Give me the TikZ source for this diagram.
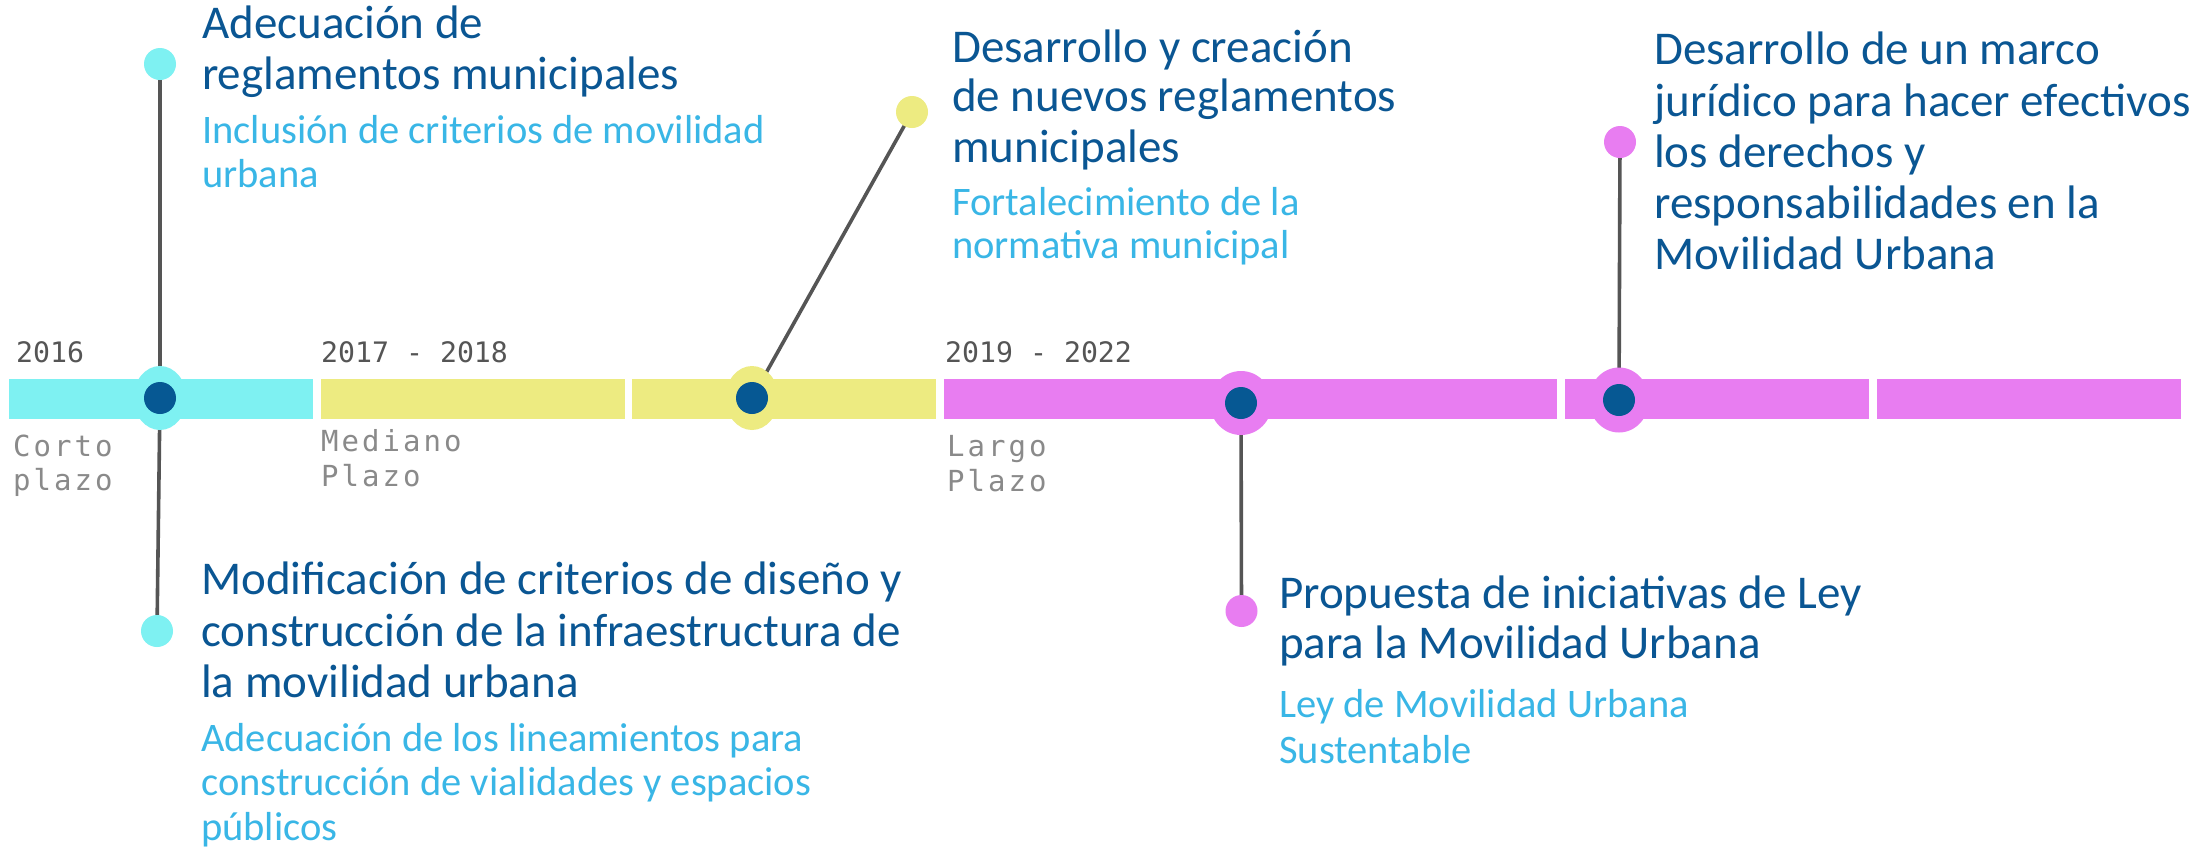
\documentclass[tikz,border=0pt]{standalone}
\usepackage{fontspec}
\setmainfont{Carlito}
\newfontfamily\yearfont{DejaVu Sans Mono}
\newfontfamily\termfont{DejaVu Sans Mono}[LetterSpace=10.5]
\usetikzlibrary{shapes.geometric}
\definecolor{cyanbar}{HTML}{7EF1F2}
\definecolor{yellowbar}{HTML}{EDEB81}
\definecolor{magentabar}{HTML}{E87DF1}
\definecolor{dotblue}{HTML}{065893}
\definecolor{titleblue}{HTML}{0A5693}
\definecolor{subblue}{HTML}{39B6E6}
\definecolor{connector}{HTML}{555555}
\definecolor{yeargray}{HTML}{555555}
\definecolor{termgray}{HTML}{8A8A8A}
\pgfdeclarelayer{bg}
\pgfsetlayers{bg,main}
\tikzset{
  ttl/.style={anchor=base west, inner sep=0pt, text=titleblue, font=\fontsize{47}{47}\selectfont},
  sub/.style={anchor=base west, inner sep=0pt, text=subblue, font=\fontsize{40.5}{40.5}\selectfont},
  yr/.style={anchor=base west, inner sep=0pt, text=yeargray, font=\yearfont\fontsize{28.2}{28.2}\selectfont},
  trm/.style={anchor=base west, inner sep=0pt, text=termgray, font=\termfont\fontsize{29}{29}\selectfont},
  ring/.style={ellipse, inner sep=0pt, draw=none},
  core/.style={circle, inner sep=0pt, minimum size=32pt, fill=dotblue, draw=none},
  enddot/.style={circle, inner sep=0pt, minimum size=32pt, draw=none},
  conn/.style={draw=connector, line width=3.6pt},
}
\begin{document}
\begin{tikzpicture}[x=1pt,y=-1pt]
\useasboundingbox (0,0) rectangle (2204,847);

% milestone markers
\node[ring, fill=cyanbar, minimum width=53pt, minimum height=64pt] (r1) at (160,398) {};
\node[core] (k1) at (160,398) {};
\node[ring, fill=yellowbar, minimum width=53pt, minimum height=64pt] (r2) at (752,398) {};
\node[core] (k2) at (752,398) {};
\node[ring, fill=magentabar, minimum width=62pt, minimum height=64pt] (r3) at (1241,403) {};
\node[core] (k3) at (1241,403) {};
\node[ring, fill=magentabar, minimum width=60pt, minimum height=65pt] (r4) at (1619,400) {};
\node[core] (k4) at (1619,400) {};

% end dots
\node[enddot, fill=cyanbar] (e1t) at (160,64) {};
\node[enddot, fill=cyanbar] (e1b) at (157,631) {};
\node[enddot, fill=yellowbar] (e2) at (912,112) {};
\node[enddot, fill=magentabar] (e3) at (1241.5,611) {};
\node[enddot, fill=magentabar] (e4) at (1620,142) {};

\begin{pgfonlayer}{bg}
  \fill[white] (0,0) rectangle (2204,847);
  \fill[cyanbar] (9,378.5) rectangle (312.5,419);
  \fill[yellowbar] (321,378.5) rectangle (624.5,419);
  \fill[yellowbar] (632,378.5) rectangle (936,419);
  \fill[magentabar] (943.5,378.5) rectangle (1557,419);
  \fill[magentabar] (1565,378.5) rectangle (1869,419);
  \fill[magentabar] (1877,378.5) rectangle (2181,419);
  \draw[conn] (e1t.center) -- (r1.center);
  \draw[conn] (r1.center) -- (e1b.center);
  \draw[conn] (e2.center) -- (r2.center);
  \draw[conn] (r3.center) -- (e3.center);
  \draw[conn] (e4.center) -- (r4.center);
\end{pgfonlayer}

% period labels
\node[yr] (y1) at (16,362) {2016};
\node[yr] (y2) at (321,362) {2017 - 2018};
\node[yr] (y3) at (945,362) {2019 - 2022};
\node[trm] (p1a) at (13,456) {Corto};
\node[trm] (p1b) at (13,490) {plazo};
\node[trm] (p2a) at (321,451) {Mediano};
\node[trm] (p2b) at (321,486) {Plazo};
\node[trm] (p3a) at (947,456) {Largo};
\node[trm] (p3b) at (947,491) {Plazo};

% block 1
\node[ttl] (a1) at (202,38) {Adecuación de};
\node[ttl] (a2) at (202,89) {reglamentos municipales};
\node[sub] (a3) at (202,143) {Inclusión de criterios de movilidad};
\node[sub] (a4) at (202,187) {urbana};

% block 2
\node[ttl] (b1) at (952,62) {Desarrollo y creación};
\node[ttl] (b2) at (952,111) {de nuevos reglamentos};
\node[ttl] (b3) at (952,162) {municipales};
\node[sub] (b4) at (952,215) {Fortalecimiento de la};
\node[sub] (b5) at (952,258) {normativa municipal};

% block 3
\node[ttl] (c1) at (1654,64) {Desarrollo de un marco};
\node[ttl] (c2) at (1654,116) {jurídico para hacer efectivos};
\node[ttl] (c3) at (1654,167) {los derechos y};
\node[ttl] (c4) at (1654,218) {responsabilidades en la};
\node[ttl] (c5) at (1654,269) {Movilidad Urbana};

% block 4
\node[ttl] (d1) at (201,594) {Modificación de criterios de diseño y};
\node[ttl] (d2) at (201,646) {construcción de la infraestructura de};
\node[ttl] (d3) at (201,697) {la movilidad urbana};
\node[sub] (d4) at (201,751) {Adecuación de los lineamientos para};
\node[sub] (d5) at (201,795) {construcción de vialidades y espacios};
\node[sub] (d6) at (201,840) {públicos};

% block 5
\node[ttl] (f1) at (1279,608) {Propuesta de iniciativas de Ley};
\node[ttl] (f2) at (1279,658) {para la Movilidad Urbana};
\node[sub] (f3) at (1279,717) {Ley de Movilidad Urbana};
\node[sub] (f4) at (1279,763) {Sustentable};
\end{tikzpicture}
\end{document}
